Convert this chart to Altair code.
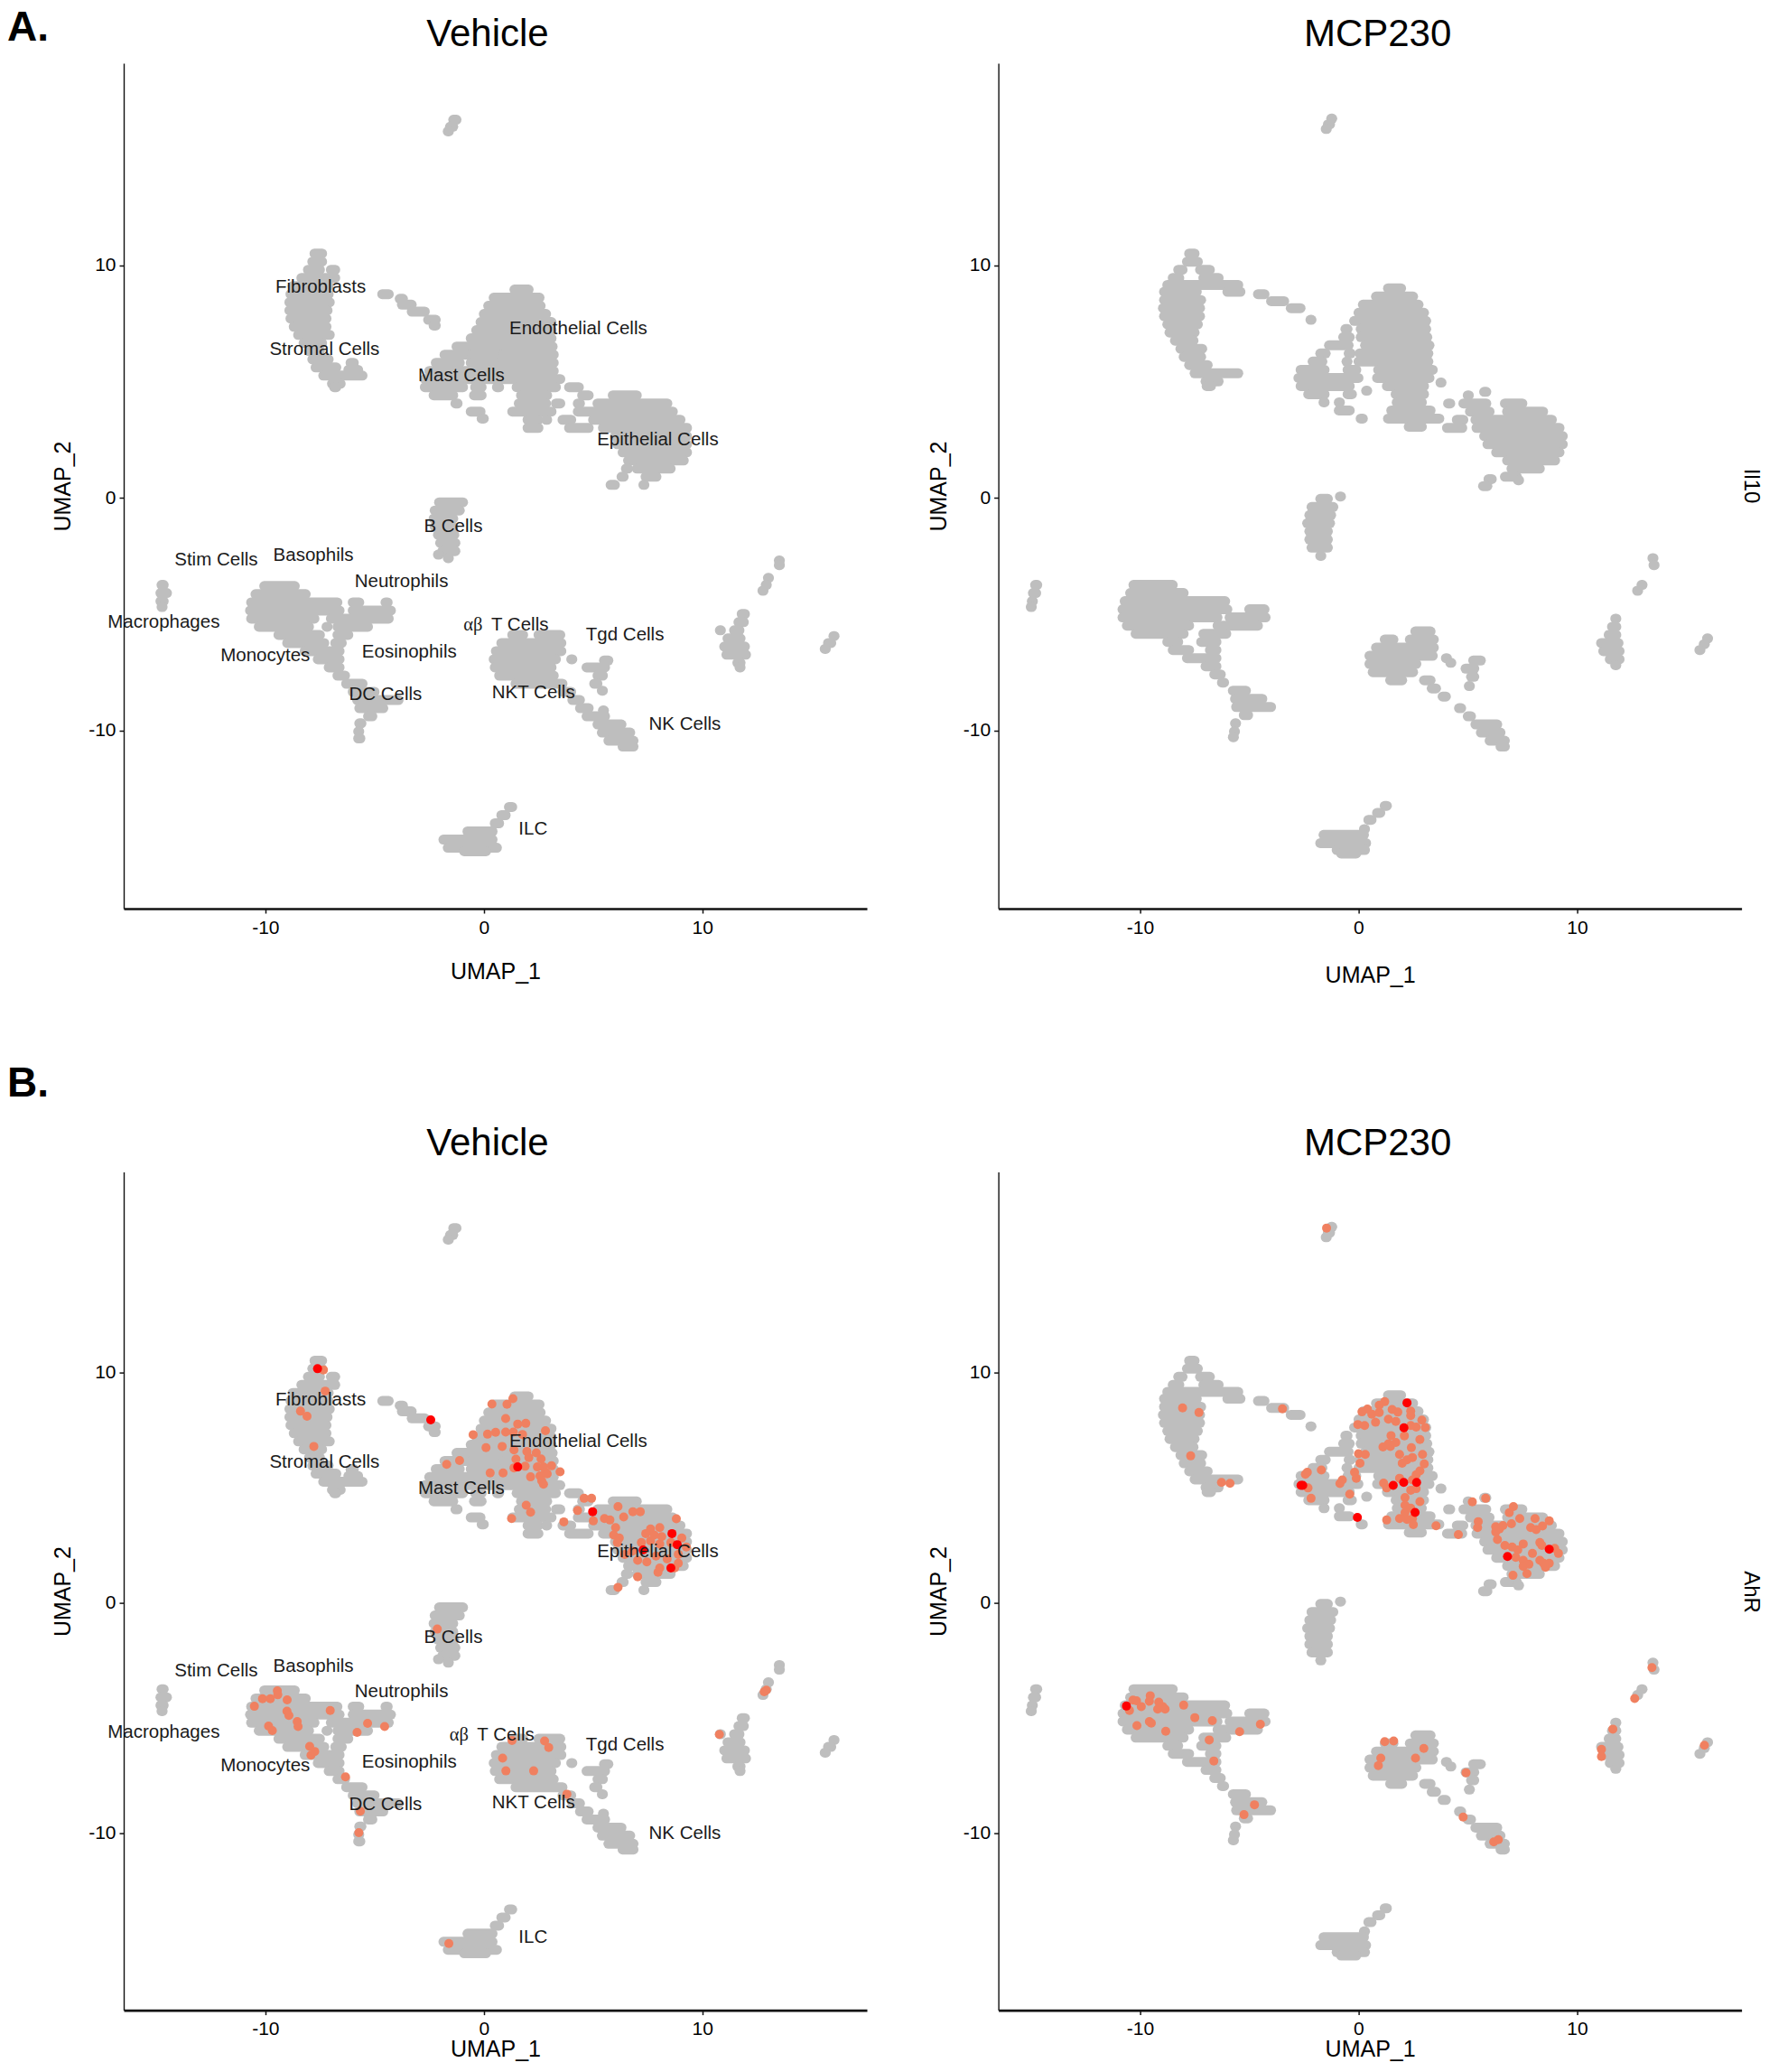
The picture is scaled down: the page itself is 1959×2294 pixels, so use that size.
import altair as alt
import pandas as pd

# (UMAP_2, UMAP_1 start, UMAP_1 end): silhouette of the grey cells, read row by row
VEHICLE_SPANS = [
(16.25,-1.4,-1.25),(15.95,-1.55,-1.4),(15.75,-1.65,-1.6),
(10.5,-7.75,-7.4),(10.15,-7.85,-7.4),(9.8,-8.05,-7.5),(9.8,-7.0,-6.8),(9.45,-8.35,-6.8),(9.1,-8.75,-7.1),(8.75,-8.85,-7.1),
(8.4,-8.9,-7.05),(8.05,-8.9,-7.15),(7.7,-8.85,-7.2),(7.35,-8.7,-7.2),(7.0,-8.5,-7.05),(6.65,-8.25,-7.4),(6.3,-8.0,-7.5),
(5.95,-7.85,-7.1),(5.6,-7.7,-6.75),(5.8,-6.1,-5.95),(5.5,-6.2,-5.75),(5.25,-7.35,-5.55),(4.9,-6.95,-6.55),(4.75,-6.85,-6.75),
(8.75,-4.65,-4.35),(8.55,-3.85,-3.7),(8.3,-3.75,-3.3),(8.0,-3.3,-2.7),(7.65,-2.55,-2.2),(7.4,-2.3,-2.2),
(8.95,1.4,2.05),(8.6,0.45,2.55),(8.25,0.2,2.6),(7.9,0.0,2.85),(7.55,-0.15,3.1),(7.2,-0.35,3.1),(6.85,-0.6,3.1),(6.5,-1.25,3.15),
(6.15,-1.8,-0.75),(6.15,-0.55,0.7),(6.15,0.9,3.2),(5.8,-2.2,-1.1),(5.8,-0.6,0.6),(5.8,0.85,3.2),(5.45,-2.5,3.2),(5.1,-2.7,3.5),
(4.75,-2.7,-0.95),(4.75,-0.4,-0.1),(4.75,0.6,0.7),(4.75,1.5,3.3),(4.75,3.9,4.35),(4.4,-2.3,-1.4),(4.4,-0.45,-0.1),(4.4,1.7,2.9),
(4.05,-1.3,-1.2),(3.7,-0.6,-0.15),(3.4,-0.1,-0.0),(4.05,1.6,2.85),(4.05,3.3,3.5),(3.7,1.3,3.1),(3.35,2.0,2.5),(3.35,2.85,2.9),(3.0,2.0,2.5),
(4.4,4.5,4.8),(4.4,5.9,7.0),(4.05,4.3,4.4),(4.05,5.2,8.4),(3.7,4.3,8.65),(3.35,3.6,4.0),(3.35,5.0,9.0),(3.0,3.9,4.8),(3.0,5.45,9.3),
(2.65,6.0,9.3),(2.3,6.1,9.3),(1.95,6.35,9.3),(1.6,6.6,9.15),(1.25,7.0,8.55),(1.25,6.5,6.6),(0.9,6.3,6.4),(0.9,7.4,7.9),
(0.55,5.8,6.0),(0.55,7.3,7.35),
(-0.2,-2.05,-0.95),(-0.55,-2.25,-1.1),(-0.9,-2.3,-1.4),(-1.25,-2.25,-1.4),(-1.6,-2.1,-1.35),(-1.95,-2.0,-1.3),(-2.3,-1.9,-1.3),
(-2.45,-2.1,-2.05),(-2.6,-1.65,-1.6),
(-3.75,-14.75,-14.65),(-4.1,-14.8,-14.5),(-4.45,-14.8,-14.65),(-4.7,-14.75,-14.7),
(-3.8,-10.05,-8.65),(-4.15,-10.45,-8.15),(-4.5,-10.65,-6.7),(-4.5,-6.0,-5.7),(-4.5,-4.5,-4.4),(-4.85,-10.7,-6.6),(-4.85,-6.0,-4.25),
(-5.2,-10.65,-7.75),(-5.2,-7.0,-4.35),(-5.55,-10.3,-8.0),(-5.55,-7.2,-7.15),(-5.55,-6.7,-5.3),(-5.9,-9.4,-7.5),(-5.9,-6.7,-6.2),
(-6.25,-9.0,-7.3),(-6.25,-6.8,-6.5),(-6.6,-8.2,-6.6),(-6.95,-7.6,-6.6),(-7.3,-7.1,-6.6),(-7.65,-6.7,-6.35),(-8.0,-6.3,-5.55),
(-8.35,-6.0,-5.0),(-8.7,-5.8,-3.9),(-9.05,-5.7,-4.6),(-9.4,-5.3,-5.1),(-9.7,-5.7,-5.6),(-10.05,-5.75,-5.7),(-10.35,-5.75,-5.65),
(-5.9,1.3,1.8),(-5.9,2.5,3.5),(-6.25,0.8,3.55),(-6.6,0.55,3.55),(-6.95,0.45,3.3),(-6.95,4.0,4.05),(-7.3,0.5,3.1),(-7.65,0.7,3.2),(-8.0,1.45,3.6),
(-8.35,3.6,4.0),(-8.7,4.05,4.4),(-9.05,4.4,4.8),(-9.15,5.45,5.5),(-9.4,4.7,5.55),(-9.75,5.2,6.3),(-10.1,5.4,6.7),(-10.45,5.7,6.85),(-10.7,6.35,6.85),
(-7.0,5.5,5.7),(-7.3,4.7,5.55),(-7.65,5.2,5.45),(-8.0,5.05,5.2),(-8.3,5.4,5.45),
(-13.3,1.15,1.3),(-13.65,0.8,1.0),(-14.0,0.5,0.7),(-14.35,-0.75,0.4),(-14.7,-1.85,0.4),(-15.05,-1.65,0.6),(-15.2,-0.9,0.1),
(-2.7,13.5,13.55),(-2.9,13.5,13.55),(-3.45,13.0,13.05),(-3.75,12.9,12.95),(-4.0,12.75,12.8),
(-5.0,11.8,11.95),(-5.35,11.65,11.9),(-5.7,11.45,11.7),(-5.7,10.8,10.85),(-6.05,11.15,11.75),(-6.4,11.0,11.95),(-6.75,11.1,12.0),(-7.1,11.6,11.75),(-7.3,11.7,11.75),
(-5.95,16.0,16.05),(-6.25,15.75,15.9),(-6.5,15.6,15.65),
]

MCP_SPANS = [
(16.3,-1.25,-1.2),(16.05,-1.4,-1.3),(15.85,-1.5,-1.45),
(10.5,-7.75,-7.5),(10.15,-7.85,-7.35),(9.8,-8.25,-8.05),(9.8,-7.25,-6.8),(9.45,-8.5,-8.2),(9.45,-7.1,-6.4),(9.15,-8.75,-5.5),
(8.85,-8.9,-7.4),(8.85,-6.0,-5.4),(8.5,-8.9,-7.2),(8.15,-8.95,-7.25),(7.8,-8.9,-7.25),(7.45,-8.75,-7.35),(7.1,-8.65,-7.5),(6.75,-8.4,-7.55),
(6.4,-8.15,-7.15),(6.05,-8.0,-7.2),(5.7,-7.75,-6.9),(5.35,-7.5,-5.5),(5.0,-7.0,-6.4),(4.8,-6.95,-6.75),
(8.75,-4.6,-4.3),(8.45,-4.0,-3.4),(8.15,-3.1,-2.65),(7.65,-2.2,-2.15),
(9.0,1.35,1.95),(8.65,0.8,2.5),(8.3,0.2,2.75),(7.95,0.0,3.0),(7.6,-0.2,3.1),(7.25,-0.6,-0.5),(7.25,0.1,3.1),(6.9,-0.7,-0.4),(6.9,0.1,3.15),
(6.55,-1.35,-0.45),(6.55,0.3,3.25),(6.2,-1.75,-1.5),(6.2,-0.45,-0.35),(6.2,0.05,3.2),(5.85,-2.1,-1.65),(5.85,-0.55,-0.5),(5.85,0.0,3.2),
(5.5,-2.65,-1.55),(5.5,-0.5,-0.1),(5.5,0.9,3.4),(5.15,-2.75,0.0),(5.15,0.85,3.25),(4.8,-2.65,-0.4),(4.8,1.3,3.0),(4.95,3.75,3.8),
(4.45,-2.3,-1.55),(4.45,-0.5,-0.3),(4.6,0.35,0.4),(4.45,1.7,3.0),(4.1,-1.6,-1.55),(4.1,-0.9,-0.85),(4.1,1.75,2.9),(3.75,-0.9,-0.4),(3.75,1.5,3.3),
(3.4,0.1,0.2),(3.4,1.35,3.7),(3.05,2.3,2.9),
(4.55,5.75,5.85),(4.4,5.0,5.05),(4.05,4.1,4.2),(4.05,4.8,5.85),(4.05,6.7,7.5),(3.7,5.1,6.0),(3.7,6.8,8.45),(3.35,4.5,4.8),(3.35,5.35,8.85),
(3.0,4.05,4.75),(3.0,5.4,9.2),(2.65,5.75,9.35),(2.3,5.9,9.35),(1.95,6.3,9.2),(1.6,6.8,9.0),(1.25,7.0,8.3),(0.9,6.7,7.25),
(0.8,5.95,6.1),(0.5,5.7,5.9),(0.75,7.3,7.35),
(0.05,-0.85,-0.8),(-0.05,-1.75,-1.4),(-0.4,-2.15,-1.15),(-0.75,-2.25,-1.25),(-1.1,-2.35,-1.3),(-1.45,-2.25,-1.4),(-1.8,-2.25,-1.4),(-2.15,-2.15,-1.4),(-2.5,-1.75,-1.7),
(-3.75,-14.8,-14.7),(-4.1,-14.9,-14.75),(-4.45,-14.95,-14.9),(-4.7,-15.0,-14.95),
(-3.75,-10.3,-8.5),(-4.1,-10.45,-8.0),(-4.45,-10.7,-6.1),(-4.8,-10.8,-6.0),(-4.8,-5.0,-4.3),(-5.15,-10.8,-6.45),(-5.15,-5.9,-4.25),
(-5.5,-10.6,-7.75),(-5.5,-6.45,-4.6),(-5.85,-10.2,-8.0),(-5.85,-7.1,-6.05),(-6.2,-8.75,-8.25),(-6.2,-7.2,-6.5),(-6.55,-8.5,-7.75),(-6.55,-6.8,-6.5),
(-6.9,-7.85,-6.5),(-7.25,-7.0,-6.5),(-7.6,-6.6,-6.3),(-7.95,-6.25,-6.15),(-8.3,-5.75,-5.15),(-8.65,-5.65,-4.4),(-9.0,-5.6,-4.0),(-9.35,-5.25,-5.05),
(-9.7,-5.65,-5.6),(-10.05,-5.7,-5.65),(-10.3,-5.75,-5.7),
(-5.75,2.6,3.3),(-6.1,1.2,1.6),(-6.1,2.35,3.45),(-6.45,0.8,3.45),(-6.8,0.5,3.4),(-6.9,4.0,4.05),(-7.1,4.2,4.25),(-7.15,0.5,2.65),(-7.5,0.65,2.5),
(-7.85,1.45,2.0),(-7.85,3.0,3.3),(-8.2,3.35,3.55),(-8.55,3.85,4.0),(-9.05,4.6,4.7),(-9.4,5.0,5.15),(-9.75,5.35,6.35),(-10.1,5.6,6.5),(-10.45,6.0,6.7),(-10.7,6.5,6.7),
(-7.0,5.25,5.6),(-7.35,4.9,5.3),(-7.7,5.15,5.3),(-8.1,5.05,5.1),
(-13.25,1.2,1.3),(-13.55,0.85,1.0),(-13.85,0.45,0.6),(-14.25,0.25,0.3),(-14.5,-1.6,0.25),(-14.85,-1.75,0.35),(-15.15,-1.0,0.3),(-15.3,-0.8,-0.1),
(-2.6,13.45,13.5),(-2.9,13.5,13.55),(-3.75,12.95,13.0),(-4.0,12.75,12.8),
(-5.2,11.75,11.8),(-5.55,11.6,11.8),(-5.9,11.45,11.8),(-6.25,11.1,11.9),(-6.6,11.2,11.95),(-6.95,11.5,11.95),(-7.2,11.75,11.8),
(-6.05,15.95,16.0),(-6.3,15.8,15.85),(-6.55,15.6,15.65),
]

# AhR-positive cells, (UMAP_1, UMAP_2)
VEHICLE_CORAL = [
(-7.34,10.1),(-7.26,9.18),(-8.39,8.31),(-8.09,8.09),(-7.78,6.78),(0.37,8.62),(1.06,8.61),(1.33,8.85),(1.0,7.99),(1.55,7.75),(1.92,7.78),
(2.82,7.46),(-0.49,7.29),(0.17,7.31),(0.54,7.39),(1.0,7.4),(1.35,7.4),(1.77,7.3),(0.1,6.73),(0.84,6.78),(1.38,6.63),(1.97,6.56),(2.4,6.5),
(2.06,6.3),(2.62,6.24),(1.47,6.23),(1.38,5.85),(1.89,5.92),(2.45,5.89),(2.73,5.89),(3.1,5.94),(3.49,5.68),(2.82,5.66),(2.57,5.5),(2.9,5.59),
(2.14,5.46),(2.73,5.14),(2.65,5.29),(0.29,5.63),(0.88,5.63),(-1.7,6.0),(-1.11,6.17),(4.59,4.53),(4.93,4.53),(1.94,4.23),(2.14,3.93),(1.27,3.65),
(3.66,3.51),(4.29,4.0),(5.01,3.55),(6.14,4.17),(5.52,3.65),(5.77,3.59),(6.4,3.72),(6.82,3.95),(7.16,3.95),(8.81,3.64),(6.03,3.26),(5.94,2.94),
(6.2,2.81),(6.11,2.61),(7.63,3.2),(8.05,3.26),(7.41,3.0),(7.8,2.94),(8.14,2.87),(9.06,2.81),(8.56,2.61),(9.27,2.42),(7.21,2.61),(7.63,2.68),
(8.05,2.55),(6.45,2.1),(6.79,2.23),(7.04,1.84),(7.46,1.77),(7.88,2.03),(8.39,1.9),(8.9,2.1),(8.9,1.71),(8.73,1.51),(7.97,1.32),(8.05,1.51),
(7.04,1.13),(6.14,0.67),(-2.13,-1.14),
(-9.45,-3.82),(-9.43,-3.99),(-10.13,-4.16),(-9.77,-4.16),(-9.0,-4.21),(-10.5,-4.49),(-7.03,-4.67),(-9.01,-4.7),(-8.92,-4.89),(-8.54,-5.15),
(-8.5,-5.37),(-9.85,-5.35),(-9.68,-5.54),(-5.32,-5.23),(-4.54,-5.37),(-5.8,-5.62),(-7.97,-6.23),(-7.74,-6.45),(-7.91,-6.61),(-6.33,-7.55),
(-5.65,-9.04),(-5.72,-9.97),(1.29,-5.97),(2.78,-5.99),(2.97,-6.28),(0.86,-6.74),(1.01,-7.29),(2.28,-7.29),(3.8,-8.3),(-1.6,-14.78),
(12.83,-3.86),(12.93,-3.79),(10.78,-5.71),
]
VEHICLE_RED = [(-7.61,10.15),(-2.43,7.93),(1.55,5.89),(4.98,3.95),(8.61,3.0),(8.85,2.52),(7.29,2.29),(8.56,1.51)]

MCP_CORAL = [
(-1.46,16.25),(-8.05,8.45),(-7.3,8.25),(-7.68,6.37),(-6.27,5.22),(-5.88,5.18),(-3.48,8.41),(1.2,8.72),(0.95,8.57),(0.41,8.4),(0.16,8.28),(0.61,8.18),
(0.95,8.25),(1.54,8.38),(1.8,8.27),(2.39,8.31),(2.39,8.12),(1.37,7.96),(1.71,7.86),(2.9,7.92),(3.06,7.6),(0.78,7.83),(-0.03,7.73),(0.28,7.69),
(2.39,7.69),(2.64,7.62),(2.1,7.24),(1.49,7.25),(2.81,7.08),(1.71,6.95),(1.37,6.89),(1.12,6.76),(1.46,6.78),(2.42,6.73),(0.0,6.46),(0.31,6.43),
(1.88,6.43),(2.93,6.43),(2.47,6.3),(2.22,6.2),(0.07,6.05),(2.0,6.05),(3.01,6.02),(-2.34,5.66),(-2.43,5.57),(-1.7,5.76),(-0.18,5.66),(-0.1,5.4),
(2.81,5.72),(2.64,5.55),(2.47,5.33),(-2.31,4.98),(-0.74,5.33),(-0.85,5.17),(1.15,5.19),(1.88,5.4),(2.39,4.88),(2.64,4.95),(1.29,4.98),(-0.4,4.71),
(-2.17,4.53),(2.13,4.56),(2.81,4.39),(2.13,4.23),(2.39,4.1),(2.13,3.91),(1.29,3.59),(1.88,3.65),(2.22,3.61),(2.47,3.65),(2.51,3.39),(3.55,3.34),
(5.21,4.38),(5.82,4.53),(4.57,2.96),(5.48,3.52),(5.45,3.26),(7.09,4.17),(6.9,3.91),(7.38,3.65),(8.08,3.65),(8.73,3.55),(7.0,3.43),(6.61,3.35),
(6.28,3.3),(6.45,3.2),(6.28,3.07),(6.36,2.74),(7.88,3.26),(8.13,3.17),(8.42,3.33),(6.7,2.49),(7.03,2.42),(7.54,2.55),(7.29,2.29),(8.3,2.61),
(8.39,2.49),(7.2,1.97),(7.96,2.14),(7.54,1.84),(9.15,2.14),(8.98,2.36),(7.54,1.58),(7.8,1.67),(8.3,1.84),(8.47,1.71),(8.73,1.71),(8.56,1.54),
(7.71,1.26),(7.07,1.19),
(-10.32,-4.22),(-10.16,-4.25),(-10.48,-4.67),(-9.94,-4.5),(-9.53,-4.03),(-9.57,-4.27),(-9.14,-4.31),(-9.19,-4.61),(-8.96,-4.5),(-8.85,-4.61),
(-8.0,-4.44),(-10.14,-5.33),(-9.57,-5.15),(-9.48,-5.22),(-7.49,-4.98),(-6.69,-5.11),(-8.82,-5.57),(-5.44,-5.59),(-4.49,-5.27),(-6.83,-5.95),
(-6.62,-6.86),(-4.76,-8.76),(-5.24,-9.19),(1.2,-6.02),(1.61,-5.99),(2.99,-6.32),(2.61,-6.74),(1.02,-6.74),(0.91,-7.06),(4.92,-7.37),(4.79,-9.29),
(6.4,-10.27),(6.19,-10.37),(13.43,-2.81),(12.64,-4.15),(11.64,-5.48),(11.12,-6.36),(11.12,-6.67),(15.83,-6.18),
]
MCP_RED = [(2.22,8.67),(2.08,7.59),(-2.63,5.09),(-2.55,5.09),(1.59,5.09),(2.07,5.22),(2.66,5.22),(2.59,3.92),(-0.05,3.7),(8.73,2.32),(6.82,2.01),(-10.62,-4.48)]

# cluster names on the Vehicle panels: (name, UMAP_1, UMAP_2)
CLUSTER_LABELS = [
("Fibroblasts",-7.47,9.06),("Endothelial Cells",4.32,7.26),("Stromal Cells",-7.29,6.35),("Mast Cells",-1.03,5.24),
("Epithelial Cells",7.96,2.49),("B Cells",-1.4,-1.24),("Stim Cells",-12.25,-2.67),("Basophils",-7.8,-2.49),
("Neutrophils",-3.77,-3.6),("Macrophages",-14.65,-5.35),("Tgd Cells",6.46,-5.91),("Monocytes",-10.0,-6.79),
("Eosinophils",-3.41,-6.65),("DC Cells",-4.5,-8.47),("NKT Cells",2.27,-8.39),("NK Cells",9.2,-9.73),("ILC",2.25,-14.26),
]
ALPHA_BETA_TOP = [("αβ",-0.49,-5.49,"Liberation Serif"),("T Cells",1.65,-5.49,"Liberation Sans")]
ALPHA_BETA_BOTTOM = [("αβ",-1.13,-5.75,"Liberation Serif"),("T Cells",1.0,-5.75,"Liberation Sans")]

X_DOMAIN = [-16.48, 17.53]
Y_DOMAIN = [-17.67, 18.68]
TICKS = [-10, 0, 10]
FONT = "Liberation Sans"
GREY, CORAL, RED = "#BEBEBE", "#F08060", "#FF0000"


def panel(title, title_x, spans, coral, red, xpad, ypad, height, labels=None, ab=None, side=None, letter=None):
    xs = alt.Scale(domain=X_DOMAIN, nice=False, zero=False)
    ys = alt.Scale(domain=Y_DOMAIN, nice=False, zero=False)
    hyphen = "'' + datum.value"
    xaxis = alt.Axis(values=TICKS, grid=False, title="UMAP_1", titleFontWeight="normal", titleFont=FONT,
                     titleFontSize=25, titlePadding=xpad, labelFont=FONT, labelFontSize=21, labelColor="black",
                     titleColor="black", domainColor="#111111", domainWidth=2.6, tickColor="#111111",
                     tickWidth=1.5, tickSize=5, labelPadding=5, labelExpr=hyphen)
    yaxis = alt.Axis(values=TICKS, grid=False, title="UMAP_2", titleFontWeight="normal", titleFont=FONT,
                     titleFontSize=25, titlePadding=ypad, labelFont=FONT, labelFontSize=21, labelColor="black",
                     titleColor="black", domainColor="#111111", domainWidth=1.4, tickColor="#111111",
                     tickWidth=1.5, tickSize=5, labelPadding=4, labelExpr=hyphen)
    sdf = pd.DataFrame(spans, columns=["y", "x0", "x1"])
    base = alt.Chart(sdf).mark_rule(strokeWidth=11, strokeCap="round", color=GREY).encode(
        x=alt.X("x0:Q", scale=xs, axis=xaxis), x2="x1:Q", y=alt.Y("y:Q", scale=ys, axis=yaxis))
    layers = [base]
    for pts, col in ((coral, CORAL), (red, RED)):
        if pts:
            d = pd.DataFrame(pts, columns=["x", "y"])
            layers.append(alt.Chart(d).mark_circle(size=100, opacity=1, color=col).encode(
                x=alt.X("x:Q", scale=xs), y=alt.Y("y:Q", scale=ys)))
    if labels:
        d = pd.DataFrame(labels, columns=["t", "x", "y"])
        layers.append(alt.Chart(d).mark_text(font=FONT, fontSize=20.5, color="#1a1a1a").encode(
            x=alt.X("x:Q", scale=xs), y=alt.Y("y:Q", scale=ys), text="t:N"))
    if ab:
        for t, x, y, f in ab:
            d = pd.DataFrame({"t": [t], "x": [x], "y": [y]})
            layers.append(alt.Chart(d).mark_text(font=f, fontSize=20.5, color="#1a1a1a").encode(
                x=alt.X("x:Q", scale=xs), y=alt.Y("y:Q", scale=ys), text="t:N"))
    layers.append(alt.Chart(pd.DataFrame({"t": [title]})).mark_text(
        font=FONT, fontSize=42, color="black", baseline="alphabetic").encode(
        x=alt.value(title_x), y=alt.value(-19), text="t:N"))
    if side:
        layers.append(alt.Chart(pd.DataFrame({"t": [side[0]]})).mark_text(
            font=FONT, fontSize=24, fontWeight=500, angle=90, color="black").encode(
            x=alt.value(side[1]), y=alt.value(side[2]), text="t:N"))
    if letter:
        layers.append(alt.Chart(pd.DataFrame({"t": [letter[0]]})).mark_text(
            font=FONT, fontSize=46, fontWeight="bold", align="left", baseline="alphabetic", color="black").encode(
            x=alt.value(letter[1]), y=alt.value(letter[2]), text="t:N"))
    return alt.layer(*layers).properties(width=823, height=height)


a = panel("Vehicle", 403, VEHICLE_SPANS, [], [], 26, 15, 936, CLUSTER_LABELS, ALPHA_BETA_TOP, letter=("A.", -129, -25))
b = panel("MCP230", 420, MCP_SPANS, [], [], 30, 14, 936, side=("Il10", 833, 468))
shift = [(t, x, y - 0.27) for t, x, y in CLUSTER_LABELS]
c = panel("Vehicle", 403, VEHICLE_SPANS, VEHICLE_CORAL, VEHICLE_RED, 0, 15, 928, shift, ALPHA_BETA_BOTTOM, letter=("B.", -129, -84))
d = panel("MCP230", 420, MCP_SPANS, MCP_CORAL, MCP_RED, 0, 14, 928, side=("AhR", 833, 465))

chart = alt.concat(a, b, c, d, columns=2, spacing={"row": 291.6, "column": 145.6}, bounds="flush").properties(
    padding=0, background="white").configure_view(stroke=None)

chart.save("out.html", embed_options={"renderer": "svg", "actions": False})
